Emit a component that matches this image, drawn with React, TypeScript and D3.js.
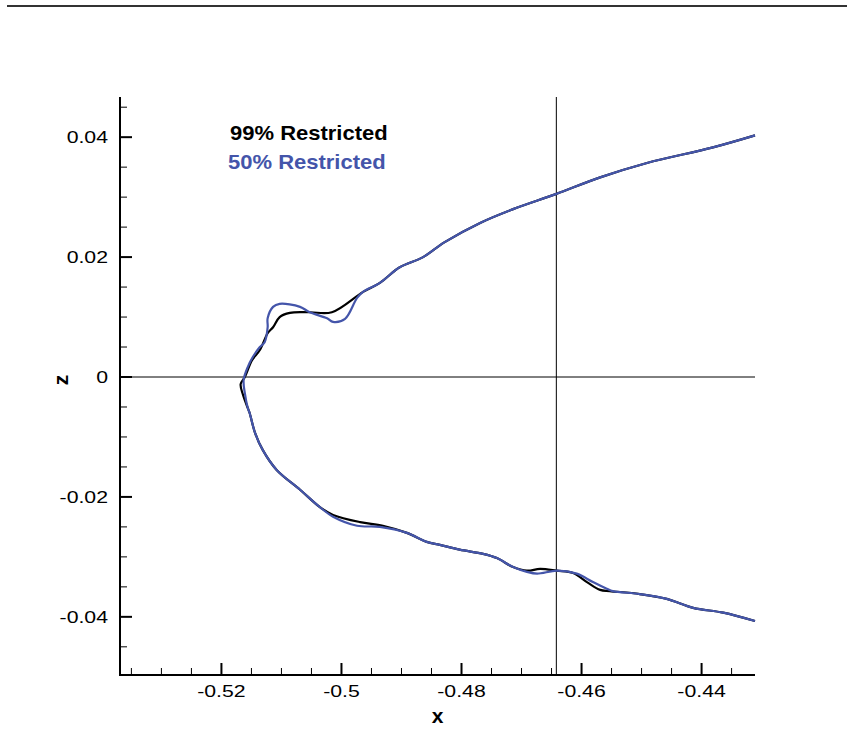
import React, { useEffect, useRef } from 'react';
import * as d3 from 'd3';

// 99% restricted profile (x, z)
const blackX = [-0.4311, -0.4381, -0.4491, -0.4569, -0.4643, -0.4714, -0.4769, -0.4828, -0.4864, -0.4903, -0.4936, -0.4964, -0.5016, -0.5053, -0.5086, -0.5103, -0.5114, -0.5123, -0.5136, -0.5149, -0.5161, -0.5168, -0.5164, -0.5156, -0.5153, -0.5144, -0.5131, -0.5108, -0.5069, -0.5036, -0.5014, -0.4969, -0.4931, -0.4891, -0.4858, -0.4836, -0.4803, -0.4764, -0.4741, -0.4714, -0.4691, -0.4669, -0.4641, -0.4614, -0.4591, -0.4569, -0.4553, -0.4503, -0.4458, -0.4414, -0.4364, -0.4311];
const blackZ = [0.0403, 0.0383, 0.0357, 0.0333, 0.0305, 0.028, 0.0257, 0.0225, 0.02, 0.0183, 0.0157, 0.0142, 0.0108, 0.0108, 0.0107, 0.01, 0.0083, 0.0073, 0.0045, 0.0028, 0.0, -0.0012, -0.003, -0.0052, -0.006, -0.0093, -0.0122, -0.0155, -0.0188, -0.0217, -0.023, -0.0242, -0.0248, -0.026, -0.0275, -0.028, -0.0288, -0.0295, -0.0302, -0.0317, -0.0323, -0.032, -0.0323, -0.0327, -0.0342, -0.0355, -0.0357, -0.0362, -0.037, -0.0385, -0.0393, -0.0407];

// 50% restricted profile (x, z)
const blueX = [-0.4311, -0.4381, -0.4491, -0.4569, -0.4643, -0.4714, -0.4769, -0.4828, -0.4864, -0.4903, -0.4936, -0.4964, -0.4974, -0.4994, -0.5014, -0.5024, -0.5053, -0.5069, -0.5103, -0.5114, -0.5123, -0.5123, -0.5128, -0.5136, -0.5148, -0.5156, -0.5163, -0.5161, -0.5156, -0.5153, -0.5144, -0.5131, -0.5108, -0.5069, -0.5036, -0.5014, -0.4974, -0.4936, -0.4891, -0.4858, -0.4836, -0.4803, -0.4764, -0.4741, -0.4714, -0.4691, -0.4674, -0.4641, -0.4608, -0.4581, -0.4558, -0.4548, -0.4503, -0.4458, -0.4414, -0.4364, -0.4311];
const blueZ = [0.0403, 0.0383, 0.0357, 0.0333, 0.0305, 0.028, 0.0257, 0.0225, 0.02, 0.0183, 0.0157, 0.0142, 0.0132, 0.0097, 0.0092, 0.0098, 0.0108, 0.0117, 0.0122, 0.0117, 0.0098, 0.0083, 0.0058, 0.005, 0.0033, 0.0017, -0.0005, -0.0027, -0.0052, -0.006, -0.0093, -0.0122, -0.0155, -0.0188, -0.0217, -0.0233, -0.0248, -0.025, -0.026, -0.0275, -0.028, -0.0288, -0.0295, -0.0302, -0.0317, -0.0325, -0.0328, -0.0323, -0.0328, -0.0342, -0.0353, -0.0357, -0.0362, -0.037, -0.0385, -0.0393, -0.0407];

const xTicks = [-0.52, -0.5, -0.48, -0.46, -0.44];
const zTicks = [-0.04, -0.02, 0, 0.02, 0.04];
const xMinor = [-0.535, -0.53, -0.525, -0.515, -0.51, -0.505, -0.495, -0.49, -0.485, -0.475, -0.47, -0.465, -0.455, -0.45, -0.445, -0.435];
const zMinor = [-0.045, -0.035, -0.03, -0.025, -0.015, -0.01, -0.005, 0.005, 0.01, 0.015, 0.025, 0.03, 0.035, 0.045];

const xDomain = [-0.5369, -0.4311];
const zDomain = [-0.0497, 0.0467];
const refX = -0.4642; // vertical reference line
const refZ = 0; // horizontal reference line

const legendLabels = ['99% Restricted', '50% Restricted'];
const BLUE = '#4455aa';

const App = () => {
  const svgRef = useRef(null);

  useEffect(() => {
    const svg = d3.select(svgRef.current);
    svg.selectAll('*').remove();

    const width = 847;
    const height = 756;
    const margin = { top: 97, right: 92, bottom: 81, left: 120 };
    const font = '"Liberation Sans", Arial, Helvetica, sans-serif';

    const x = d3.scaleLinear().domain(xDomain).range([margin.left, width - margin.right]);
    const z = d3.scaleLinear().domain(zDomain).range([height - margin.bottom, margin.top]);

    // top rule
    svg.append('line')
      .attr('x1', 7).attr('x2', width).attr('y1', 6).attr('y2', 6)
      .attr('stroke', '#333').attr('stroke-width', 2);

    // reference lines
    svg.append('line')
      .attr('x1', x(refX)).attr('x2', x(refX))
      .attr('y1', z.range()[1]).attr('y2', z.range()[0])
      .attr('stroke', '#000').attr('stroke-width', 1);
    svg.append('line')
      .attr('x1', x.range()[0]).attr('x2', x.range()[1])
      .attr('y1', z(refZ)).attr('y2', z(refZ))
      .attr('stroke', '#000').attr('stroke-width', 1);

    // curves
    const line = d3.line().x(d => x(d[0])).y(d => z(d[1])).curve(d3.curveCatmullRom.alpha(0.5));
    const black = blackX.map((v, i) => [v, blackZ[i]]);
    const blue = blueX.map((v, i) => [v, blueZ[i]]);
    svg.append('path').datum(black)
      .attr('d', line).attr('fill', 'none').attr('stroke', '#000')
      .attr('stroke-width', 2.2).attr('stroke-linejoin', 'round');
    svg.append('path').datum(blue)
      .attr('d', line).attr('fill', 'none').attr('stroke', BLUE)
      .attr('stroke-width', 2.2).attr('stroke-linejoin', 'round');

    // axes
    const y0 = z.range()[0];
    const x0 = x.range()[0];
    const axis = svg.append('g');
    axis.selectAll('.xmaj').data(xTicks).join('line')
      .attr('x1', d => x(d)).attr('x2', d => x(d)).attr('y1', y0).attr('y2', y0 - 12)
      .attr('stroke', '#000').attr('stroke-width', 2);
    axis.selectAll('.xmin').data(xMinor).join('line')
      .attr('x1', d => x(d)).attr('x2', d => x(d)).attr('y1', y0).attr('y2', y0 - 7)
      .attr('stroke', '#000').attr('stroke-width', 1);
    axis.selectAll('.zmaj').data(zTicks).join('line')
      .attr('x1', x0).attr('x2', x0 + 12).attr('y1', d => z(d)).attr('y2', d => z(d))
      .attr('stroke', '#000').attr('stroke-width', 2);
    axis.selectAll('.zmin').data(zMinor).join('line')
      .attr('x1', x0).attr('x2', x0 + 7).attr('y1', d => z(d)).attr('y2', d => z(d))
      .attr('stroke', '#000').attr('stroke-width', 1);
    axis.append('path')
      .attr('d', `M${x0},${z.range()[1]}V${y0}H${x.range()[1]}`)
      .attr('fill', 'none').attr('stroke', '#000').attr('stroke-width', 2);

    const fmt = d => (d === 0 ? '0' : String(d));

    // tick labels (wide Helvetica look)
    svg.append('g').selectAll('text').data(xTicks).join('text')
      .attr('transform', d => `translate(${x(d)},${y0 + 22}) scale(1.25,1)`)
      .attr('text-anchor', 'middle')
      .style('font-family', font).style('font-size', '17px')
      .text(fmt);
    svg.append('g').selectAll('text').data(zTicks).join('text')
      .attr('transform', d => `translate(${x0 - 12},${z(d) + 6}) scale(1.25,1)`)
      .attr('text-anchor', 'end')
      .style('font-family', font).style('font-size', '17px')
      .text(fmt);

    // axis titles
    svg.append('text')
      .attr('x', (x.range()[0] + x.range()[1]) / 2).attr('y', y0 + 48)
      .attr('text-anchor', 'middle')
      .style('font-family', font).style('font-size', '21px').style('font-weight', 'bold')
      .text('x');
    svg.append('text')
      .attr('transform', `translate(68,380) rotate(-90)`)
      .attr('text-anchor', 'middle')
      .style('font-family', font).style('font-size', '21px').style('font-weight', 'bold')
      .text('z');

    // legend
    const legendColors = ['#000', BLUE];
    svg.append('g').selectAll('text').data(legendLabels).join('text')
      .attr('transform', (d, i) => `translate(${i === 0 ? 230 : 228},${140 + i * 29}) scale(1.1,1)`)
      .attr('fill', (d, i) => legendColors[i])
      .style('font-family', font).style('font-size', '20px').style('font-weight', 'bold')
      .text(d => d);
  }, []);

  return (
    <svg
      ref={svgRef}
      width="847"
      height="756"
      style={{ position: 'absolute', left: 0, top: 0, background: '#fff' }}
    ></svg>
  );
};

export default App;
